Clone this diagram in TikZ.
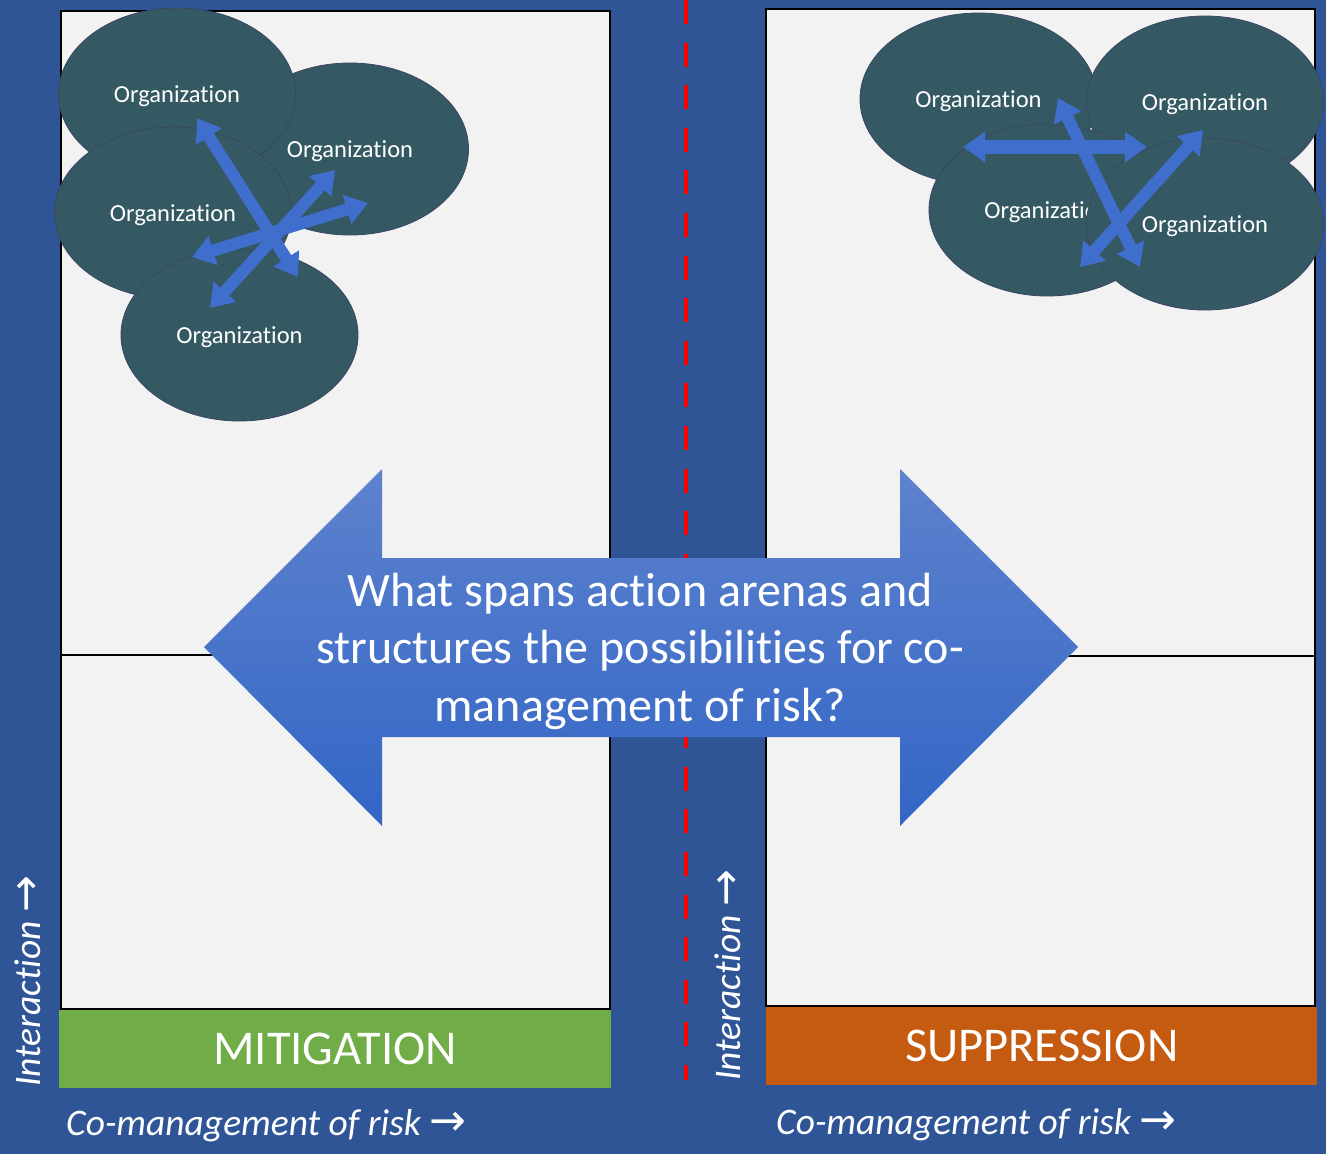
\documentclass[tikz,border=0pt]{standalone}
\usepackage{fontspec}
\setmainfont{Carlito}[Ligatures=NoCommon]
\newfontfamily\arrfont{DejaVu Sans}
\usetikzlibrary{shapes.geometric,arrows.meta}
\definecolor{bgblue}{RGB}{47,85,151}
\definecolor{panelfill}{RGB}{242,242,242}
\definecolor{mitgreen}{RGB}{112,173,71}
\definecolor{supporange}{RGB}{197,90,17}
\definecolor{orgfill}{RGB}{53,89,99}
\definecolor{orgline}{RGB}{58,68,100}
\definecolor{smallarrow}{RGB}{63,110,205}
\definecolor{bigtop}{RGB}{94,130,205}
\definecolor{bigbot}{RGB}{50,102,198}
\definecolor{dashred}{RGB}{255,0,0}
\begin{document}
\begin{tikzpicture}[x=1pt,y=-1pt,
  panel/.style={draw=black, line width=2pt, fill=panelfill, anchor=north west, inner sep=0pt, minimum width=549pt, minimum height=998pt},
  bar/.style={anchor=north west, inner sep=0pt, minimum width=552pt, minimum height=78pt, text=white, font=\fontsize{48.5}{56}\selectfont},
  org/.style={ellipse, fill=orgfill, draw=orgline, line width=0.8pt, text=white, inner sep=0pt, minimum width=237pt, minimum height=172pt, text depth=0pt, font=\fontsize{24.5}{28}\selectfont},
  blk/.style={line width=12pt, draw=smallarrow, {Triangle[width=29pt,length=22pt]}-{Triangle[width=29pt,length=22pt]}},
  axis/.style={text=white, inner sep=0pt, font=\itshape\fontsize{37.5}{42}\selectfont},
  divider/.style={draw=dashred, line width=4.5pt, dash pattern=on 24pt off 18.6pt}
]
\newcommand\rarr{{\upshape\arrfont\fontsize{44}{44}\selectfont →}}
\fill[bgblue] (0,0) rectangle (1326,1154);
\useasboundingbox (0,0) rectangle (1326,1154);

% panels
\node[panel] (lp) at (60,10) {};
\node[panel, minimum height=997pt] (rp) at (765,8) {};
\draw[black, line width=1.5pt] (60,655) -- (609,655);
\draw[black, line width=1.5pt] (765,656) -- (1314,656);

% bars
\node[bar, fill=mitgreen] (mit) at (59,1010) {MITIGATION};
\node[bar, fill=supporange, minimum width=551pt] (sup) at (766,1007) {SUPPRESSION};

% divider
\coordinate (dtop) at (686,0);
\coordinate (dbot) at (686,1080);
\draw[divider] (dtop) -- (dbot);

% left cluster
\node[org] (B) at (350,149) {Organization};
\node[org] (A) at (177,94) {Organization};
\node[org] (C) at (173,213) {Organization};
\node[org] (D) at (239.5,335) {Organization};

\coordinate (a1s) at (197,118); \coordinate (a1e) at (298,277);
\coordinate (a2s) at (210,308); \coordinate (a2e) at (335,170);
\coordinate (a3s) at (192,257); \coordinate (a3e) at (368,203);
\draw[blk] (a1s) -- (a1e);
\draw[blk] (a2s) -- (a2e);
\draw[blk] (a3s) -- (a3e);

% right cluster
\node[org] (E) at (978.5,99) {Organization};
\node[org] (F) at (1205,102) {Organization};
\node[org] (G) at (1047.5,210) {Organization};
\node[org] (H) at (1205,224) {Organization};

\coordinate (b1s) at (963,147); \coordinate (b1e) at (1147,147);
\coordinate (b2s) at (1058,98); \coordinate (b2e) at (1140,267);
\coordinate (b3s) at (1080,267); \coordinate (b3e) at (1203,130);
\draw[blk, line width=14pt] (b1s) -- (b1e);
\draw[blk] (b3s) -- (b3e);
\draw[blk] (b2s) -- (b2e);

% big double arrow
\shade[top color=bigtop, bottom color=bigbot]
  (204,647) -- (382,469) -- (382,558) -- (900,558) -- (900,469) -- (1078,647)
  -- (900,826) -- (900,737) -- (382,737) -- (382,826) -- cycle;
\node[text=white, align=center, inner sep=0pt, font=\fontsize{48}{57.5}\selectfont] (q) at (640,651)
  {What spans action arenas and\\structures the possibilities for co-\\management of risk?};

% axis labels
\node[axis, rotate=90, anchor=west] (il) at (28,1087) {Interaction \rarr};
\node[axis, rotate=90, anchor=west] (ir) at (728,1081) {Interaction \rarr};
\node[axis, anchor=base west] (cl) at (66,1135) {Co-management of risk \rarr};
\node[axis, anchor=base west] (cr) at (776,1134) {Co-management of risk \rarr};
\end{tikzpicture}
\end{document}
